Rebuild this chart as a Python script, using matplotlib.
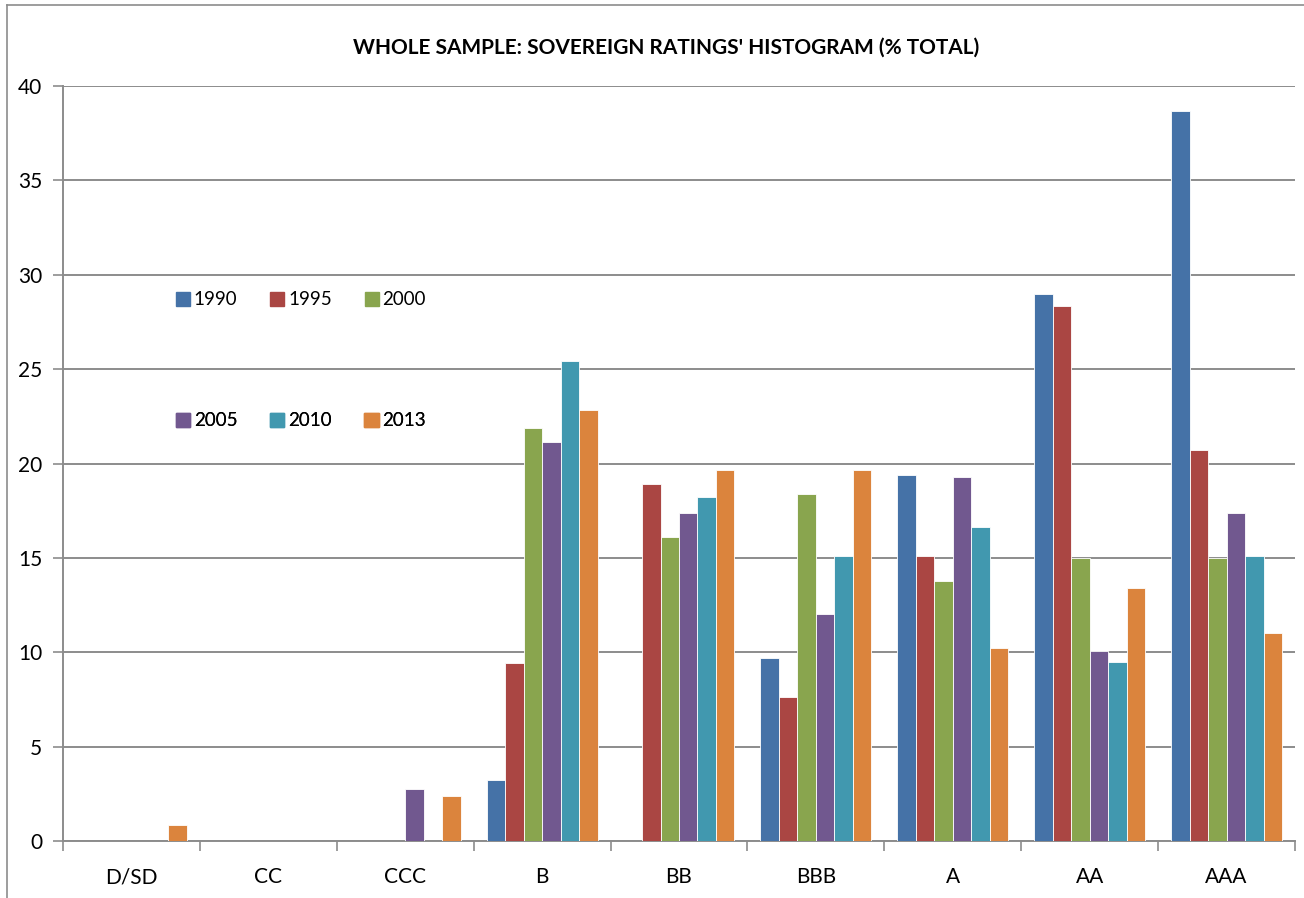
import matplotlib.pyplot as plt
import numpy as np
from matplotlib.lines import Line2D
import matplotlib.patches as mpatches

# Ratings categories and share of countries per year (% of total)
ratings = ["D/SD", "CC", "CCC", "B", "BB", "BBB", "A", "AA", "AAA"]
years = ["1990", "1995", "2000", "2005", "2010", "2013"]

share_1990 = [0, 0, 0, 3.23, 0, 9.68, 19.4, 29.0, 38.7]
share_1995 = [0, 0, 0, 9.42, 18.94, 7.62, 15.1, 28.34, 20.72]
share_2000 = [0, 0, 0, 21.88, 16.08, 18.36, 13.8, 15.0, 15.0]
share_2005 = [0, 0, 2.75, 21.12, 17.4, 12.0, 19.3, 10.07, 17.39]
share_2010 = [0, 0, 0, 25.42, 18.25, 15.1, 16.65, 9.5, 15.11]
share_2013 = [0.85, 0, 2.38, 22.84, 19.68, 19.68, 10.25, 13.4, 11.02]

series = [share_1990, share_1995, share_2000, share_2005, share_2010, share_2013]
colors = ["#4572A7", "#AA4643", "#89A54E", "#71588F", "#4198AF", "#DB843D"]

plt.rcParams["font.family"] = ["Lato", "DejaVu Sans"]

fig = plt.figure(figsize=(13.04, 8.98), dpi=100)
ax = fig.add_axes([0.0483, 0.0635, 0.9448, 0.8407])

x = np.arange(len(ratings))
group = 0.81
w = group / len(series)
for i, (vals, c) in enumerate(zip(series, colors)):
    ax.bar(x - group / 2 + w * (i + 0.5), vals, width=w, color=c,
           edgecolor="white", linewidth=0.6, label=years[i], zorder=3)

ax.set_xlim(-0.5, len(ratings) - 0.5)
ax.set_ylim(0, 40)
ax.set_yticks(range(0, 41, 5))
ax.yaxis.grid(True, color="#8c8c8c", linewidth=1.4, zorder=0)
ax.set_axisbelow(True)

# category boundaries carry the tick marks, labels sit in the middle
ax.set_xticks(np.arange(len(ratings) + 1) - 0.5)
ax.set_xticklabels([])
ax.set_xticks(x, minor=True)
ax.set_xticklabels(ratings, minor=True, fontsize=15)
ax.tick_params(axis="x", which="minor", length=0, pad=19)
ax.tick_params(axis="x", which="major", length=7, color="#8c8c8c", width=1.2)
ax.tick_params(axis="y", length=7, color="#8c8c8c", width=1.2, labelsize=15, pad=8)

for side in ["top", "right"]:
    ax.spines[side].set_visible(False)
for side in ["left", "bottom"]:
    ax.spines[side].set_color("#8c8c8c")
    ax.spines[side].set_linewidth(1.4)

fig.text(0.5105, 0.947, "WHOLE SAMPLE: SOVEREIGN RATINGS' HISTOGRAM (% TOTAL)",
         ha="center", va="center", fontsize=15, fontweight="bold")

# legend: two rows of three entries
handles = [mpatches.Patch(color=c, label=y) for c, y in zip(colors, years)]
rows = [(handles[:3], 0.7166), (handles[3:], 0.5563)]
for hs, yrow in rows:
    leg = ax.legend(handles=hs, ncol=3, loc="center left",
                    bbox_to_anchor=(0.0917, yrow), frameon=False, borderpad=0,
                    borderaxespad=0, fontsize=13.5, handlelength=0.75,
                    handleheight=0.75, handletextpad=0.2, columnspacing=1.75)
    ax.add_artist(leg)

# chart-area frame along the top and left edges
fig.add_artist(Line2D([7 / 1304, 1], [1 - 5 / 898, 1 - 5 / 898],
                      color="#8c8c8c", linewidth=1.2, transform=fig.transFigure))
fig.add_artist(Line2D([7 / 1304, 7 / 1304], [0, 1 - 5 / 898],
                      color="#8c8c8c", linewidth=1.2, transform=fig.transFigure))

fig.savefig("out.png", dpi=100)
